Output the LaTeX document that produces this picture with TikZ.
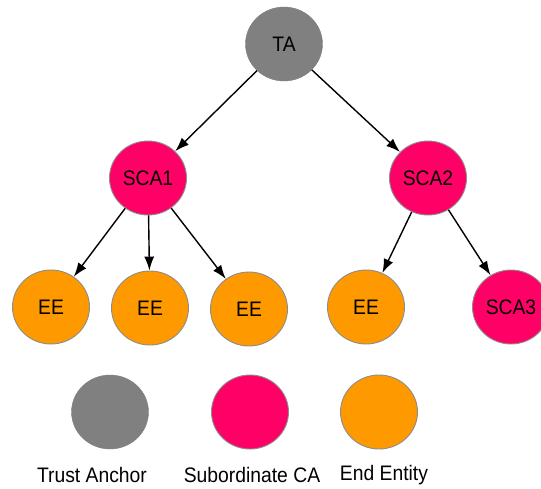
\documentclass[tikz,border=0pt]{standalone}
\usepackage{fontspec}
\setmainfont{Liberation Sans}[FakeStretch=0.92]
\usepackage{tikz}
\usetikzlibrary{arrows.meta, shapes.geometric}
\definecolor{taGray}{HTML}{808080}
\definecolor{caPink}{HTML}{FF0066}
\definecolor{eeOrange}{HTML}{FF9900}
\definecolor{rimGray}{HTML}{8C8C8C}

\begin{document}
\begin{tikzpicture}[
  x=1pt, y=1pt,
  disc/.style={ellipse, minimum width=77pt, minimum height=74pt, inner sep=0pt,
               font=\fontsize{21}{24}\selectfont},
  ta/.style={disc, fill=taGray, draw=taGray},
  sca/.style={disc, fill=caPink, draw=rimGray, line width=0.9pt},
  ee/.style={disc, fill=eeOrange, draw=rimGray, line width=0.9pt},
  lbl/.style={font=\fontsize{21}{24}\selectfont, inner sep=0pt},
  arr/.style={-{Latex[length=14pt, width=10pt]}, line width=1.4pt}
]
  \useasboundingbox (0,0) rectangle (541,-488);

  % hierarchy
  \node[ta]  (ta)   at (284,-44)  {TA};
  \node[sca] (sca1) at (148,-178) {SCA1};
  \node[sca] (sca2) at (428,-178) {SCA2};
  \node[ee]  (ee1)  at (51,-307)  {EE};
  \node[ee]  (ee2)  at (150,-308) {EE};
  \node[ee]  (ee3)  at (249,-309) {EE};
  \node[ee]  (ee4)  at (366,-307) {EE};
  \node[sca] (sca3) at (511,-307) {SCA3};

  \draw[arr] (ta)   -- (sca1);
  \draw[arr] (ta)   -- (sca2);
  \draw[arr] (sca1) -- (ee1);
  \draw[arr] (sca1) -- (ee2);
  \draw[arr] (sca1) -- (ee3);
  \draw[arr] (sca2) -- (ee4);
  \draw[arr] (sca2) -- (sca3);

  % legend
  \node[ta]  (legta)  at (110,-412) {};
  \node[sca] (legsca) at (250,-412) {};
  \node[ee]  (legee)  at (379,-412) {};
  \node[lbl] (txtta)  at (92,-475)  {Trust Anchor};
  \node[lbl] (txtsca) at (252,-475) {Subordinate CA};
  \node[lbl] (txtee)  at (384,-475) {End Entity};
\end{tikzpicture}
\end{document}
